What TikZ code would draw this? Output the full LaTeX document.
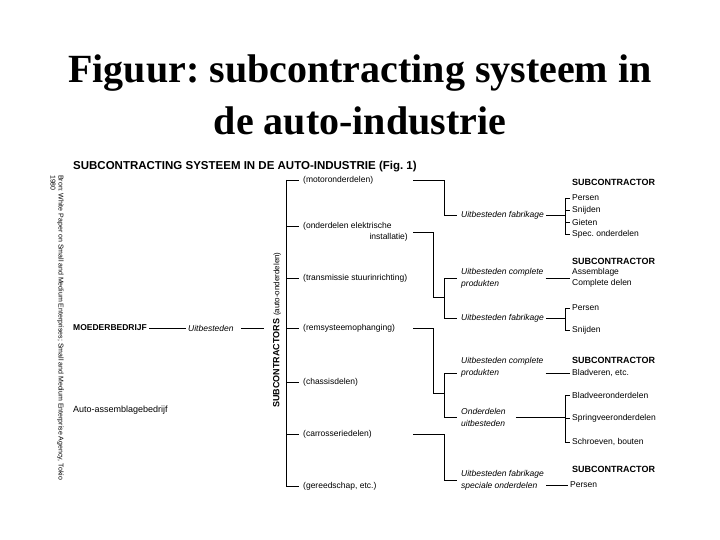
\documentclass[tikz,border=0pt]{standalone}
\usepackage{fontspec}
\setmainfont{Liberation Sans}
\newfontfamily\titlefont{Liberation Serif}
\usetikzlibrary{positioning}
\frenchspacing

\begin{document}
\begin{tikzpicture}[x=1pt, y=-1pt,
    item/.style={anchor=west, inner sep=2pt, align=left,
                 font=\fontsize{8.5}{10.5}\selectfont},
    act/.style={item, font=\fontsize{8.5}{12}\selectfont\itshape},
    subhead/.style={anchor=west, inner sep=2pt,
                    font=\fontsize{9}{11}\selectfont\bfseries},
    ln/.style={line width=0.7pt}
  ]

    \useasboundingbox (0,0) rectangle (720,540);

    % Title
    \node[font=\titlefont\bfseries\fontsize{40}{52}\selectfont, align=center] (title)
      at (360,95) {Figuur: subcontracting systeem in\\de auto-industrie};

    % Heading
    \node[anchor=west, inner sep=0pt, font=\fontsize{11.5}{13}\selectfont\bfseries] (head)
      at (73,167) {SUBCONTRACTING SYSTEEM IN DE AUTO-INDUSTRIE (Fig.~1)};

    % Source
    \node[rotate=-90, anchor=north west, inner sep=0pt, align=left,
          font=\fontsize{7}{8}\selectfont] (bron) at (64,175)
      {Bron: White Paper on Small and Medium Enterprises; Small and Medium Enterprise Agency, Tokio\\1980};

    % Parent company
    \node[item, font=\fontsize{8.5}{10}\selectfont\bfseries] (moeder) at (71,328) {MOEDERBEDRIJF};
    \node[act] (uitb) at (186,328) {Uitbesteden};
    \coordinate (uitb-end) at (264,328);
    \node[item, font=\fontsize{9}{11}\selectfont] (auto) at (71,410) {Auto-assemblagebedrijf};
    \draw[ln] (moeder) -- (uitb);
    \draw[ln, shorten <=5pt] (uitb) -- (uitb-end);

    % Subcontractors
    \node[rotate=90, inner sep=0pt] (subc) at (277,330)
      {{\fontsize{9}{11}\selectfont\bfseries SUBCONTRACTORS} {\fontsize{8}{10}\selectfont(auto-onderdelen)}};

    \coordinate (bar)  at (286,0);
    \coordinate (outx) at (413,0);
    \coordinate (brB)  at (444,0);
    \coordinate (brA)  at (565,0);

    % Parts
    \node[item] (motor)  at (301,180) {(motoronderdelen)};
    \node[item] (elek)   at (301,226) {(onderdelen elektrische};
    \node[item, anchor=east] (inst) at (410,237) {installatie)};
    \node[item] (trans)  at (301,278) {(transmissie stuurinrichting)};
    \node[item] (rem)    at (301,328) {(remsysteemophanging)};
    \node[item] (chas)   at (301,382) {(chassisdelen)};
    \node[item] (carr)   at (301,434) {(carrosseriedelen)};
    \node[item] (gereed) at (301,486) {(gereedschap, etc.)};

    \draw[ln] (motor -| bar) -- (gereed -| bar);
    \foreach \n in {motor, elek, trans, rem, chas, carr, gereed}
      \draw[ln, shorten >=2pt] (\n -| bar) -- (\n.west);

    % Outsourcing
    \node[act] (uf1)  at (459,215) {Uitbesteden fabrikage};
    \node[act] (cp1)  at (459,278) {Uitbesteden complete\\produkten};
    \node[act] (uf2)  at (459,318) {Uitbesteden fabrikage};
    \node[act] (cp2a) at (459,361) {Uitbesteden complete};
    \node[act] (cp2b) at (459,373) {produkten};
    \node[act] (ond)  at (459,417) {Onderdelen\\uitbesteden};
    \node[act] (uf3)  at (459,480) {Uitbesteden fabrikage\\speciale onderdelen};

    \coordinate (j2) at (444,297);
    \coordinate (j3) at (444,393);

    \draw[ln, shorten >=2pt] (motor -| outx) -| (uf1 -| brB) -- (uf1.west);
    \draw[ln] (elek.south -| outx) -- ++(20,0) |- (j2);
    \draw[ln] (cp1 -| brB) -- (uf2 -| brB);
    \draw[ln] (rem -| outx) -- ++(20,0) |- (j3);
    \draw[ln] (cp2b -| brB) -- (ond -| brB);
    \draw[ln, shorten >=2pt] (carr -| outx) -| (uf3 -| brB) -- (uf3.west);
    \foreach \n in {cp1, uf2, cp2b, ond}
      \draw[ln, shorten >=2pt] (\n -| brB) -- (\n.west);

    % Subcontractor 1
    \node[subhead] (sc1) at (570,182) {SUBCONTRACTOR};
    \node[item] (pers1) at (570,198) {Persen};
    \node[item] (snij1) at (570,210) {Snijden};
    \node[item] (giet)  at (570,222) {Gieten};
    \node[item] (spec)  at (570,234) {Spec. onderdelen};
    \draw[ln] (uf1) -- (uf1 -| brA);
    \draw[ln] (pers1 -| brA) -- (spec -| brA);

    % Subcontractor 2
    \node[subhead] (sc2) at (570,261) {SUBCONTRACTOR};
    \node[item, font=\fontsize{8.5}{11}\selectfont] (asm) at (570,278) {Assemblage\\Complete delen};
    \draw[ln] (cp1) -- (asm);

    \node[item] (pers2) at (570,308) {Persen};
    \node[item] (snij2) at (570,330) {Snijden};
    \draw[ln] (uf2) -- (uf2 -| brA);
    \draw[ln] (pers2 -| brA) -- (snij2 -| brA);

    % Subcontractor 3
    \node[subhead] (sc3) at (570,360) {SUBCONTRACTOR};
    \node[item] (blad) at (570,373) {Bladveren, etc.};
    \draw[ln] (cp2a.east |- cp2b) -- (blad.west);

    \node[item] (bvo)  at (570,395) {Bladveeronderdelen};
    \node[item] (svo)  at (570,418) {Springveeronderdelen};
    \node[item] (schr) at (570,442) {Schroeven, bouten};
    \draw[ln, shorten <=8pt] (ond) -- (ond -| brA);
    \draw[ln] (bvo -| brA) -- (schr -| brA);

    \foreach \n in {pers1, snij1, giet, spec, pers2, snij2, bvo, svo, schr}
      \draw[ln] (\n -| brA) -- (\n.west);

    % Subcontractor 4
    \node[subhead] (sc4) at (570,469) {SUBCONTRACTOR};
    \node[item] (pers3) at (568,485) {Persen};
    \draw[ln] (uf3.east |- pers3) -- (pers3.west);

  \end{tikzpicture}
\end{document}
